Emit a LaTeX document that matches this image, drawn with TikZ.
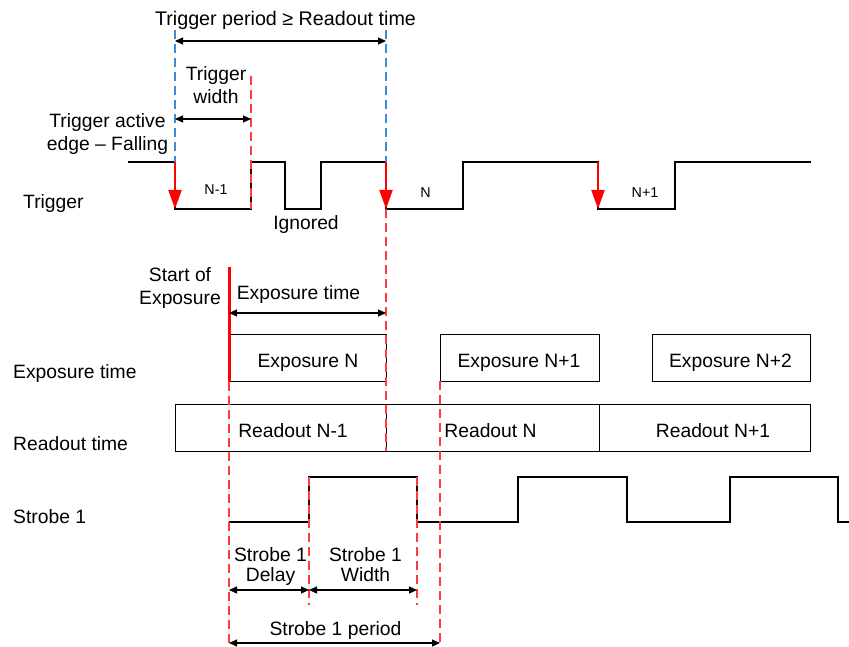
\documentclass[tikz,border=0pt]{standalone}
\usepackage{fontspec}
\setmainfont{Liberation Sans}
\usetikzlibrary{arrows.meta}
\definecolor{dashred}{HTML}{FF3B3B}
\definecolor{dashblue}{HTML}{3E8AD6}
\begin{document}
\begin{tikzpicture}[x=1pt,y=-1pt,
  lbl/.style={font=\fontsize{19.3}{23}\selectfont, inner sep=0pt, anchor=base},
  lblw/.style={lbl, anchor=base west},
  sml/.style={font=\fontsize{14.3}{16}\selectfont, inner sep=0pt, anchor=base},
  sig/.style={line width=1.4pt, line join=miter},
  tbox/.style={draw, line width=1.3pt},
  rdash/.style={draw=dashred, line width=1.05pt, dash pattern=on 9pt off 5pt},
  bdash/.style={draw=dashblue, line width=1.05pt, dash pattern=on 9pt off 5pt},
  dim/.style={line width=1.1pt, {Triangle[length=8pt,width=7pt]}-{Triangle[length=8pt,width=7pt]}},
  redarrow/.style={red, line width=2pt, -{Triangle[length=19pt,width=13pt]}},
]
\useasboundingbox (0,0) rectangle (849,647);

% ---------- coordinates ----------
\coordinate (tpA) at (175,41);  \coordinate (tpB) at (386,41);
\coordinate (twA) at (175,119); \coordinate (twB) at (251,119);
\coordinate (etA) at (229,313); \coordinate (etB) at (386,313);
\coordinate (sdA) at (229,590); \coordinate (sdB) at (309,590);
\coordinate (swB) at (417,590);
\coordinate (spA) at (229,643); \coordinate (spB) at (440,643);

% ---------- trigger waveform ----------
\draw[sig] (128,162) -- (175,162) -- (175,209) -- (251,209) -- (251,162)
  -- (285,162) -- (285,209) -- (321,209) -- (321,162) -- (386,162)
  -- (386,209) -- (463,209) -- (463,162) -- (598,162) -- (598,209)
  -- (675,209) -- (675,162) -- (811,162);

% ---------- exposure / readout boxes ----------
\node[tbox, minimum width=157pt, minimum height=47pt, anchor=north west] (expN) at (229,334) {};
\node[tbox, minimum width=159pt, minimum height=47pt, anchor=north west] (expN1) at (440,334) {};
\node[tbox, minimum width=158pt, minimum height=47pt, anchor=north west] (expN2) at (652,334) {};
\node[tbox, minimum width=211pt, minimum height=47pt, anchor=north west] (rdN0) at (175,404) {};
\node[tbox, minimum width=213pt, minimum height=47pt, anchor=north west] (rdN) at (386,404) {};
\node[tbox, minimum width=211pt, minimum height=47pt, anchor=north west] (rdN1) at (599,404) {};

% ---------- strobe waveform ----------
\draw[sig] (229,522) -- (309,522) -- (309,477) -- (417,477) -- (417,522)
  -- (518,522) -- (518,477) -- (627,477) -- (627,522) -- (730,522)
  -- (730,477) -- (838,477) -- (838,522) -- (849,522);

% ---------- dashed guide lines ----------
\draw[bdash] (175,30) -- (175,162);
\draw[bdash] (386,30) -- (386,162);
\draw[rdash] (251,76) -- (251,209);
\draw[rdash] (386,209) -- (386,451);
\draw[rdash] (229,382) -- (229,647);
\draw[rdash] (440,381) -- (440,647);
\draw[rdash] (309,477) -- (309,605);
\draw[rdash] (417,477) -- (417,605);

% ---------- red active edges ----------
\draw[redarrow] (175,162) -- (175,209);
\draw[redarrow] (386,162) -- (386,209);
\draw[redarrow] (598,162) -- (598,209);
\draw[red, line width=3pt] (229,267) -- (229,382);

% ---------- dimension arrows ----------
\draw[dim] (tpA) -- (tpB);
\draw[dim] (twA) -- (twB);
\draw[dim] (etA) -- (etB);
\draw[dim] (sdA) -- (sdB);
\draw[dim] (sdB) -- (swB);
\draw[dim] (spA) -- (spB);

% ---------- texts ----------
\node[lbl, font=\fontsize{19.7}{23}\selectfont] (ttp) at (285.5,26) {Trigger period ≥ Readout time};
\node[lbl] (ttw1) at (216,81) {Trigger};
\node[lbl] (ttw2) at (216,104) {width};
\node[lbl] (tae1) at (107.5,128) {Trigger active};
\node[lbl] (tae2) at (107.5,151) {edge – Falling};
\node[lblw] (ltrig) at (23,209) {Trigger};
\node[sml] (nm1) at (216,195) {N-1};
\node[sml] (n0) at (425.5,198) {N};
\node[sml] (np1) at (645,198) {N+1};
\node[lbl] (ign) at (306,230) {Ignored};
\node[lbl] (soe1) at (180,282) {Start of};
\node[lbl] (soe2) at (180,305) {Exposure};
\node[lbl] (tet) at (298.5,299) {Exposure time};
\node[lbl] at (308,367) {Exposure N};
\node[lbl] at (519,367) {Exposure N+1};
\node[lbl] at (730.5,367) {Exposure N+2};
\node[lblw] (lexp) at (13,378) {Exposure time};
\node[lbl] at (293,437) {Readout N-1};
\node[lbl] at (490.5,437) {Readout N};
\node[lbl] at (713,437) {Readout N+1};
\node[lblw] (lrd) at (13,450) {Readout time};
\node[lblw] (lstr) at (13,523) {Strobe 1};
\node[lbl] (sd1) at (270.5,561) {Strobe 1};
\node[lbl] (sd2) at (270.5,581) {Delay};
\node[lbl] (sw1) at (365.5,561) {Strobe 1};
\node[lbl] (sw2) at (365.5,581) {Width};
\node[lbl] (sp) at (335.5,635) {Strobe 1 period};
\end{tikzpicture}
\end{document}
